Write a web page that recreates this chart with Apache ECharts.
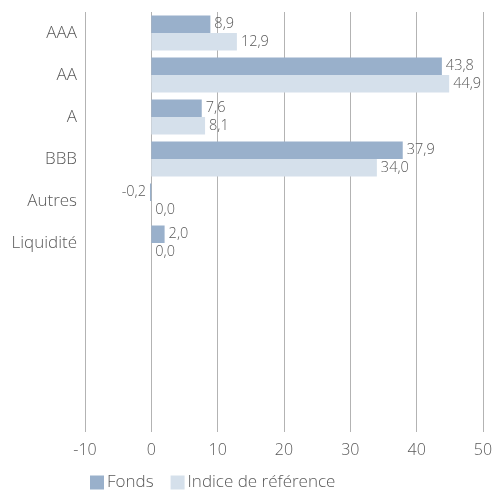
<!DOCTYPE html>
<html><head><meta charset="utf-8">
<script src="https://cdn.jsdelivr.net/npm/echarts@6/dist/echarts.min.js"></script>
<style>html,body{margin:0;padding:0;background:#fff}#c{width:497px;height:493px}</style>
</head><body><div id="c"></div>
<script>
const categories = ['AAA','AA','A','BBB','Autres','Liquidité',' ','  ','   ','    '];
const fonds = [8.9, 43.8, 7.6, 37.9, -0.2, 2.0, null, null, null, null];
const indice = [12.9, 44.9, 8.1, 34.0, 0.0, 0.0, null, null, null, null];
const xTicks = {min: -10, max: 50, interval: 10};
const seriesNames = ['Fonds', 'Indice de référence'];

const fmt = v => v.toFixed(1).replace('.', ',');
const font = '"Open Sans", Lato, sans-serif';
function toData(arr){
  return arr.map(v => v === null ? null : {
    value: v,
    label: {position: v < 0 ? 'left' : 'right'}
  });
}
const chart = echarts.init(document.getElementById('c'), null, {renderer:'canvas'});
chart.setOption({
  animation: false,
  textStyle: {fontFamily: font},
  grid: {left: 85, right: 14, top: 12, bottom: 61},
  legend: {
    bottom: -3, left: 85, itemWidth: 14, itemHeight: 14, itemGap: 17,
    icon: 'rect',
    textStyle: {fontSize: 17, color: '#595959', fontFamily: font, fontWeight: 300, padding: [0,0,0,-2]},
    data: seriesNames
  },
  xAxis: {
    type: 'value', min: xTicks.min, max: xTicks.max, interval: xTicks.interval,
    axisLine: {show: false}, axisTick: {show: false},
    splitLine: {lineStyle: {color: '#b3b3b3', width: 1}},
    axisLabel: {fontSize: 16, color: '#595959', margin: 10, fontFamily: font, fontWeight: 300}
  },
  yAxis: {
    type: 'category', data: categories, inverse: true,
    axisLine: {show: false}, axisTick: {show: false},
    axisLabel: {fontSize: 17, color: '#595959', margin: 8, fontFamily: font, fontWeight: 300}
  },
  series: [
    {
      name: seriesNames[0], type: 'bar', data: toData(fonds),
      barWidth: 17.5, barGap: '0%',
      itemStyle: {color: '#99b0cb'},
      label: {show: true, fontSize: 14.5, color: '#595959', distance: 4, fontFamily: font, fontWeight: 300,
        formatter: p => fmt(p.value)}
    },
    {
      name: seriesNames[1], type: 'bar', data: toData(indice),
      barWidth: 17.5, barGap: '0%',
      itemStyle: {color: '#d5e0eb'},
      label: {show: true, fontSize: 14.5, color: '#595959', distance: 4, fontFamily: font, fontWeight: 300,
        formatter: p => fmt(p.value)}
    }
  ]
});
</script></body></html>
